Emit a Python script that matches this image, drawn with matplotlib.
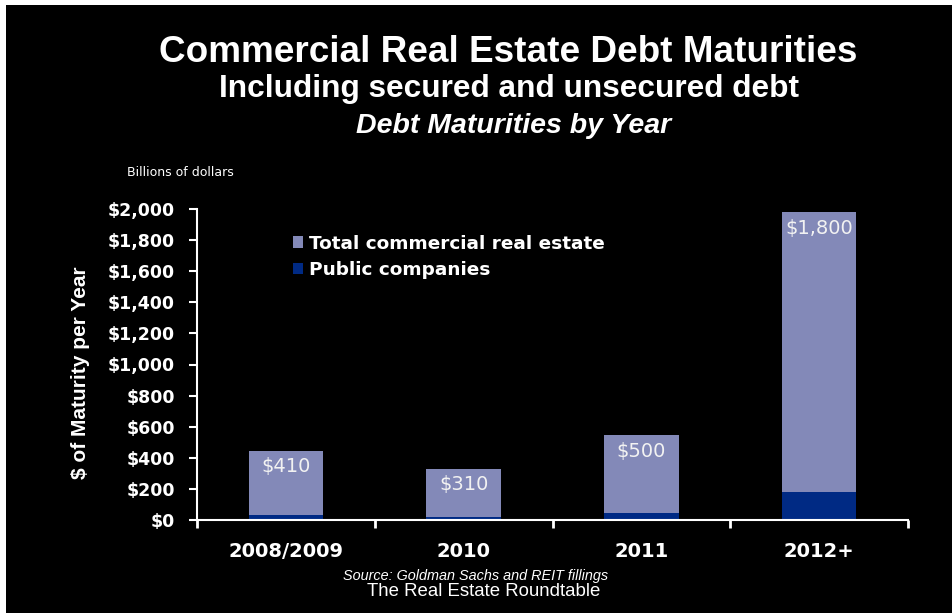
import matplotlib
matplotlib.use('Agg')
import matplotlib.pyplot as plt
from matplotlib.patches import Rectangle
import numpy as np

years = ['2008/2009', '2010', '2011', '2012+']
total_cre = [410, 310, 500, 1800]      # total commercial real estate (billions)
public_cos = [35, 20, 45, 180]         # public companies (billions)
yticks = [0, 200, 400, 600, 800, 1000, 1200, 1400, 1600, 1800, 2000]
ytick_labels = ['$' + format(v, ',') for v in yticks]

c_total = '#8389B8'
c_public = '#002A84'
bold_font = 'DejaVu Sans'
arial = 'Liberation Sans'

fig = plt.figure(figsize=(9.52, 6.13), dpi=100, facecolor='white')
# black slide area with thin white strip on top/left
fig.patches.append(Rectangle((6 / 952, 0), 1, 1 - 5 / 613, transform=fig.transFigure,
                             facecolor='black', edgecolor='none', zorder=-10))

ax = fig.add_axes([197 / 952, 1 - 520 / 613, (908 - 197) / 952, (520 - 209) / 613])
ax.patch.set_alpha(0)

x = np.arange(len(years))
w = 0.42
b_public = ax.bar(x, public_cos, width=w, color=c_public, label='Public companies', zorder=2)
b_total = ax.bar(x, total_cre, width=w, bottom=public_cos, color=c_total,
                 label='Total commercial real estate', zorder=2)

# value labels near top of each bar
for i in range(len(years)):
    top = public_cos[i] + total_cre[i]
    ax.annotate('$' + format(total_cre[i], ','), (x[i], top), xytext=(0, -16),
                textcoords='offset pixels', ha='center', va='center',
                color='#F2F2F2', fontsize=14, family=bold_font, zorder=3)

ax.set_xlim(-0.5, 3.5)
ax.set_ylim(0, 2000)
ax.set_yticks(yticks)
ax.set_yticklabels(ytick_labels, fontsize=12.5, fontweight='bold', family=bold_font, color='white')
ax.set_xticks(x)
ax.set_xticklabels(years, fontsize=14, fontweight='bold', family=bold_font, color='white')
ax.set_xticks(np.arange(-0.5, 4, 1), minor=True)
ax.tick_params(axis='x', which='major', length=0, pad=16)
ax.tick_params(axis='x', which='minor', length=6, width=2, color='white', direction='out')
ax.tick_params(axis='y', length=6, width=1.5, color='white', pad=10)

for s in ['top', 'right']:
    ax.spines[s].set_visible(False)
for s in ['left', 'bottom']:
    ax.spines[s].set_color('white')
    ax.spines[s].set_linewidth(1.5)

leg = ax.legend(handles=[b_total, b_public], loc='upper left', bbox_to_anchor=(0.135, 0.918),
                frameon=False, handlelength=0.55, handleheight=0.55, handletextpad=0.3,
                labelspacing=0.45, borderpad=0, borderaxespad=0,
                prop={'family': bold_font, 'weight': 'bold', 'size': 13.3})
for t in leg.get_texts():
    t.set_color('white')

# titles
fig.text(508 / 952, 1 - 53 / 613, 'Commercial Real Estate Debt Maturities', ha='center', va='center',
         color='white', fontsize=26.6, fontweight='bold', family=arial)
fig.text(509 / 952, 1 - 89 / 613, 'Including secured and unsecured debt', ha='center', va='center',
         color='white', fontsize=22.8, fontweight='bold', family=arial)
fig.text(514 / 952, 1 - 126 / 613, 'Debt Maturities by Year', ha='center', va='center',
         color='white', fontsize=20.5, fontweight='bold', style='italic', family=arial)

fig.text(127 / 952, 1 - 173 / 613, 'Billions of dollars', ha='left', va='center',
         color='white', fontsize=9, family='DejaVu Sans')
fig.text(80 / 952, 1 - 373 / 613, '$ of Maturity per Year', ha='center', va='center', rotation=90,
         color='white', fontsize=15, fontweight='bold', family=arial)

fig.text(476 / 952, 1 - 576 / 613, 'Source: Goldman Sachs and REIT fillings', ha='center', va='center',
         color='white', fontsize=10.4, style='italic', family=arial)
fig.text(484 / 952, 1 - 591 / 613, 'The Real Estate Roundtable', ha='center', va='center',
         color='white', fontsize=13.4, family=arial)

fig.savefig('out.png', dpi=100, facecolor=fig.get_facecolor())
